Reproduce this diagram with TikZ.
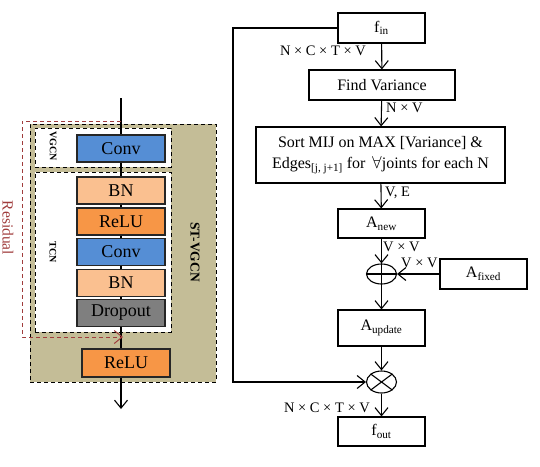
\documentclass[tikz,border=0pt]{standalone}
\usepackage{fontspec}
\setmainfont{Liberation Serif}
\usetikzlibrary{positioning, arrows.meta, shapes.geometric}

\definecolor{convblue}{RGB}{85,142,213}
\definecolor{bnpeach}{RGB}{250,192,144}
\definecolor{reluorange}{RGB}{247,150,70}
\definecolor{dropgray}{RGB}{127,127,127}
\definecolor{stan}{RGB}{196,189,151}
\definecolor{resred}{RGB}{160,60,60}

\begin{document}
\begin{tikzpicture}[
  x=1pt, y=-1pt,
  >={Straight Barb[length=8pt,width=13pt]},
  lay/.style={draw=black!85, line width=1.3pt, minimum width=88pt,
    minimum height=27pt, inner sep=0pt, font=\fontsize{18}{19}\selectfont},
  conv/.style={lay, fill=convblue},
  bn/.style={lay, fill=bnpeach},
  relu/.style={lay, fill=reluorange},
  drop/.style={lay, fill=dropgray},
  grp/.style={draw, line width=1pt, dash pattern=on 4pt off 3pt, inner sep=0pt},
  grptag/.style={font=\fontsize{10}{11}\selectfont\bfseries, rotate=-90},
  flow/.style={draw, line width=1.1pt, minimum width=87pt, minimum height=30pt,
    inner sep=0pt, align=center, font=\fontsize{16}{21}\selectfont},
  op/.style={draw, ellipse, line width=1.1pt, minimum width=30pt,
    minimum height=20pt, inner sep=0pt},
  dimlbl/.style={font=\fontsize{14.5}{16}\selectfont, inner sep=1pt},
  wire/.style={line width=1.1pt},
  arr/.style={->, line width=1.1pt},
  res/.style={->, resred, line width=1pt, dash pattern=on 4pt off 3pt},
]
\useasboundingbox (0,0) rectangle (540,466);

% --- ST-VGCN block (left) ---
\node[grp, fill=stan, minimum width=186pt, minimum height=258pt] (stvgcn) at (123,253) {};
\node[grp, fill=white, minimum width=136pt, minimum height=39pt] (vgcnbox) at (103,147.5) {};
\node[grp, fill=white, minimum width=136pt, minimum height=160pt] (tcnbox) at (103,252) {};

\node[grptag] (vgcntag) at (53,146) {VGCN};
\node[grptag] (tcntag) at (53,252) {TCN};
\node[grptag, font=\fontsize{13.5}{14}\selectfont\bfseries] (sttag) at (195,252) {ST-VGCN};
\node[rotate=-90, text=resred, font=\fontsize{15.5}{16}\selectfont] (restag) at (8,228) {Residual};

\node[conv]  (conv1) at (121,148.5) {Conv};
\node[bn]    (bn1)   at (121,190.5) {BN};
\node[relu]  (relu1) at (121,221.5) {ReLU};
\node[conv]  (conv2) at (121,252)   {Conv};
\node[bn]    (bn2)   at (121,283)   {BN};
\node[drop]  (drop)  at (121,313)   {Dropout};
\node[relu, minimum height=28pt] (relu2) at (126,363) {ReLU};

\coordinate (in)     at (121,98);
\coordinate (out)    at (121,409);
\coordinate (resin)  at (121,121);
\coordinate (resbot) at (22,337);
\coordinate (reshit) at (123,337);

\draw[wire] (in) -- (conv1);
\draw[wire] (conv1) -- (bn1);
\draw[wire] (bn1) -- (relu1);
\draw[wire] (relu1) -- (conv2);
\draw[wire] (conv2) -- (bn2);
\draw[wire] (bn2) -- (drop);
\draw[wire] (drop.south) -- (drop.south |- relu2.north);
\draw[arr] (relu2.south -| out) -- (out);

% residual path
\draw[res] (resin) -| (resbot) -- (reshit);

% --- adjacency update (right) ---
\node[flow] (fin) at (381.5,28) {f\textsubscript{in}};
\node[flow, minimum width=146pt] (findvar) at (382,85) {Find Variance};
\node[flow, minimum width=249pt, minimum height=56pt] (sortmij) at (380.5,155)
  {Sort MIJ on MAX [Variance] \&\\Edges\textsubscript{[j, j+1]} for \,$\forall$joints for each N};
\node[flow, minimum height=29pt] (anew) at (381.5,223.5) {A\textsubscript{new}};
\node[op] (plus) at (381.5,274) {};
\node[flow] (afixed) at (483.5,274) {A\textsubscript{fixed}};
\node[flow, minimum height=36pt] (aupd) at (381.5,328) {A\textsubscript{update}};
\node[op, minimum height=22pt] (times) at (381.5,382) {};
\node[flow, minimum height=29pt] (fout) at (381.5,431.5) {f\textsubscript{out}};

\draw[wire] (plus.north) -- (plus.south);
\draw[wire] (plus.west) -- (plus.east);
\draw[wire] (times.north west) -- (times.south east);
\draw[wire] (times.north east) -- (times.south west);

\draw[arr] (fin) -- (findvar);
\draw[arr] (findvar) -- (sortmij);
\draw[arr] (sortmij) -- (anew);
\draw[arr] (anew) -- (plus);
\draw[arr] (afixed) -- (plus);
\draw[arr] (plus) -- (aupd);
\draw[arr] (aupd) -- (times);
\draw[arr] (times) -- (fout);

\coordinate (loopc) at (233,382);
\draw[arr] (fin.west) -| (loopc) -- (times.west);

\node[dimlbl, anchor=east] (d1) at (367,51) {N × C × T × V};
\node[dimlbl, anchor=west] (d2) at (385,108) {N × V};
\node[dimlbl, anchor=west] (d3) at (384,193) {V, E};
\node[dimlbl, anchor=west] (d4) at (382,247) {V × V};
\node[dimlbl, anchor=west] (d5) at (400,263) {V × V};
\node[dimlbl, anchor=east] (d6) at (371,408) {N × C × T × V};

\end{tikzpicture}
\end{document}
